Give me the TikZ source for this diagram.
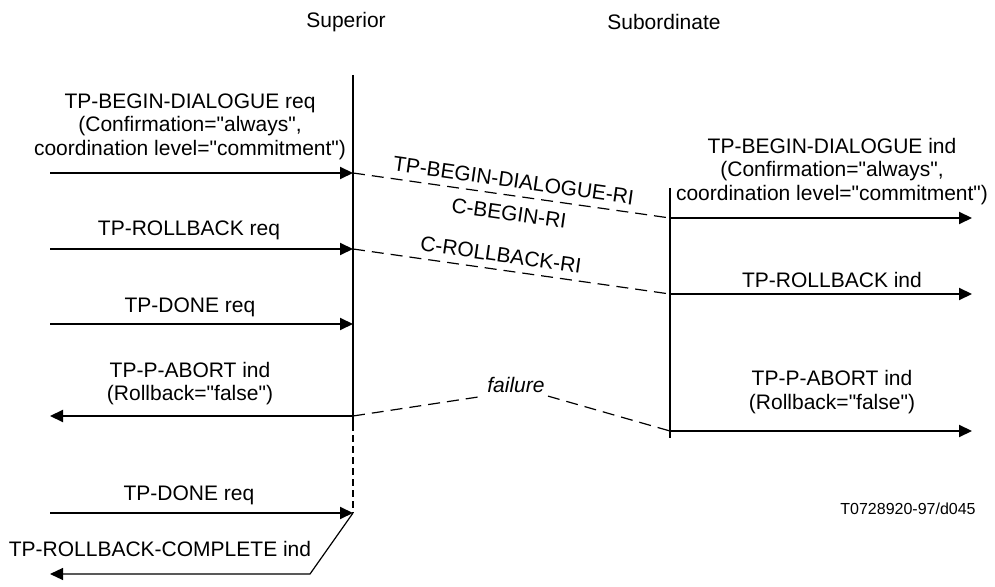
\documentclass[tikz,border=0pt]{standalone}
\usepackage{fontspec}
\setmainfont{Liberation Sans}[Ligatures=TeXOff]
\usetikzlibrary{arrows.meta, positioning}

\begin{document}
\begin{tikzpicture}[
    x=0.5pt, y=-0.5pt,
    every node/.style={font=\fontsize{10.5}{11.75}\selectfont, align=center},
    lifeline/.style={line width=1pt, black},
    msg/.style={-{Triangle[length=6.5pt, width=6pt]}, line width=1pt},
    remote/.style={dash pattern=on 6pt off 3.5pt, line width=0.6pt},
    rilabel/.style={sloped, inner sep=3.5pt}
]
\useasboundingbox (0,0) rectangle (995,587);

\def\xS{353}   % 上级时间线
\def\xB{670}   % 下级时间线
\def\xL{50}    % 左端
\def\xR{972}   % 右端

% 标题
\node (sup) at (346,22) {Superior};
\node (sub) at (664,22) {Subordinate};

% 时间线
\coordinate (supTop) at (\xS,75);
\coordinate (supMid) at (\xS,424);
\coordinate (supEnd) at (\xS,513);
\coordinate (subTop) at (\xB,188);
\coordinate (subEnd) at (\xB,438);
\draw[lifeline] (supTop) -- (supMid);
\draw[lifeline, dash pattern=on 3.5pt off 2pt] (supMid) -- (supEnd);
\draw[lifeline] (subTop) -- (subEnd);

% 消息端点
\foreach \n/\y in {1/173, 2/249, 3/324, 4/416, 5/513} {
    \coordinate (a\n) at (\xL,\y);
    \coordinate (s\n) at (\xS,\y);
}
\foreach \n/\y in {1/218, 2/294, 4/431} {
    \coordinate (b\n) at (\xB,\y);
    \coordinate (r\n) at (\xR,\y);
}
\coordinate (s6) at (310,574);
\coordinate (a6) at (\xL,574);

% 上级一侧
\draw[msg] (a1) -- (s1);
\draw[msg] (a2) -- (s2);
\draw[msg] (a3) -- (s3);
\draw[msg] (s4) -- (a4);
\draw[msg] (a5) -- (s5);
\draw[msg, line width=0.6pt] (s5) -- (s6) -- (a6);

\node (beginReq) at (190,126.5) {TP-BEGIN-DIALOGUE req\\(Confirmation="always",\\coordination level="commitment")};
\node (rbReq) at (189,230) {TP-ROLLBACK req};
\node (doneReq) at (190,307) {TP-DONE req};
\node (abortInd) at (190,383.5) {TP-P-ABORT ind\\(Rollback="false")};
\node (doneReqB) at (189,495) {TP-DONE req};
\node (rbComplete) at (160,549) {TP-ROLLBACK-COMPLETE ind};

% 下级一侧
\draw[msg] (b1) -- (r1);
\draw[msg] (b2) -- (r2);
\draw[msg] (b4) -- (r4);

\node (beginInd) at (832,171.5) {TP-BEGIN-DIALOGUE ind\\(Confirmation="always",\\coordination level="commitment")};
\node (rbInd) at (832,280) {TP-ROLLBACK ind};
\node (abortIndB) at (832,392) {TP-P-ABORT ind\\(Rollback="false")};

% 远程传输
\draw[remote] (s1) -- (b1)
    node[rilabel, midway, above] (riBegin) {TP-BEGIN-DIALOGUE-RI}
    node[rilabel, midway, below, inner sep=5pt] (riCBegin) {C-BEGIN-RI};
\draw[remote] (s2) -- (b2)
    node[rilabel, pos=0.46, above] (riRollback) {C-ROLLBACK-RI};

\node[font=\fontsize{10.5}{11.75}\selectfont\itshape, inner sep=1.5pt] (fail) at (516,385) {failure};
\draw[remote] (s4) -- (fail.south west);
\draw[remote] (fail.south east) -- (b4);

\node[font=\fontsize{8}{9}\selectfont] (tag) at (908,509) {T0728920-97/d045};

\end{tikzpicture}
\end{document}
